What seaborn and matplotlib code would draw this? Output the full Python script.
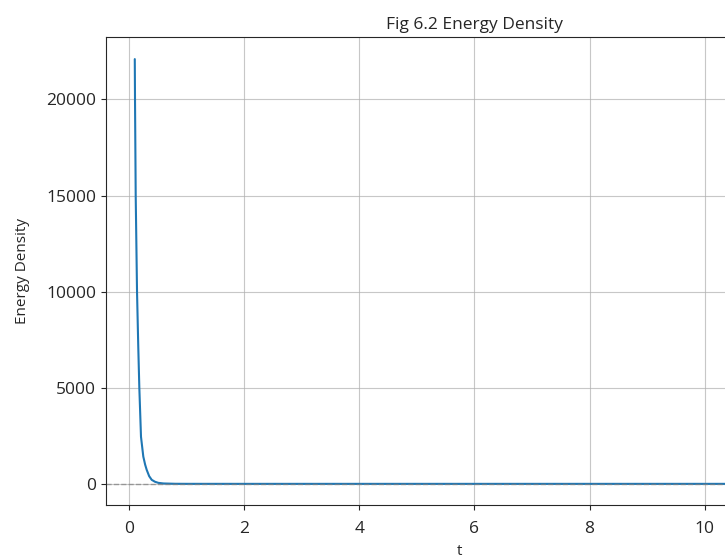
import pandas as pd
import matplotlib
matplotlib.use("Agg")
import matplotlib.pyplot as plt
import seaborn as sns

# values
t_values = [0.10, 0.104, 0.116, 0.139, 0.16, 0.179, 0.208, 0.248, 0.28, 0.307,
            0.35, 0.394, 0.45, 0.509, 0.6, 0.8, 1.0, 2.0, 5.0, 11.5]
energy_values = [22100, 20000, 15000, 10000, 7200, 5000, 2450, 1420, 1000, 730,
                 400, 210, 110, 52, 20, 4, 1, 0, 0, 0]

title = "Fig 6.2 Energy Density"
x_label = "t"
y_label = "Energy Density"

df = pd.DataFrame({"t": t_values, "energy": energy_values})

sns.set_style("ticks")
plt.rcParams["font.family"] = ["Open Sans", "DejaVu Sans"]
fig = plt.figure(figsize=(7.25, 5.58), dpi=100)
# the reference is cropped on the right, so the axes run past the figure edge
ax = fig.add_axes([106 / 725, 53 / 558, 708 / 725, 468 / 558])

sns.lineplot(data=df, x="t", y="energy", ax=ax, color="#1f77b4", linewidth=1.5)
ax.axhline(0, color="grey", linestyle="--", linewidth=1, alpha=0.7)

ax.set_xlim(-0.4, 11.9)
ax.set_ylim(-1100, 23250)
ax.set_xticks([0, 2, 4, 6, 8, 10])
ax.set_yticks([0, 5000, 10000, 15000, 20000])
ax.grid(True, color="#b0b0b0", linewidth=0.8, alpha=0.7)

ax.set_title(title, fontsize=12.5, x=0.52)
ax.set_xlabel(x_label, fontsize=11, labelpad=5)
ax.set_ylabel(y_label, fontsize=11, labelpad=12)
ax.tick_params(labelsize=12.5)
ax.tick_params(axis="x", pad=8)

fig.savefig("out.png", dpi=100)
